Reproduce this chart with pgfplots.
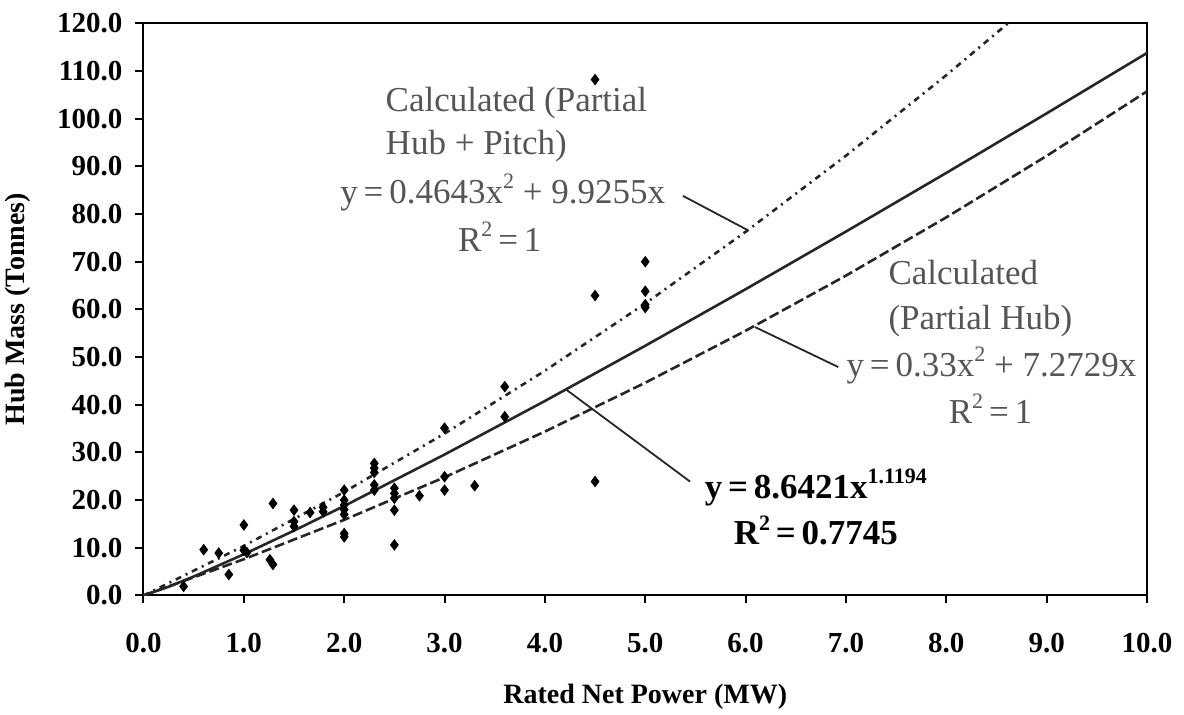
\documentclass[border=0pt]{standalone}
\usepackage{fontspec}
\setmainfont{Liberation Serif}
\usepackage{pgfplots}
\pgfplotsset{compat=1.18}
\definecolor{anno}{HTML}{555555}
\definecolor{ln}{HTML}{262626}
\newcommand{\sq}[1]{\raisebox{0.42em}{\fontsize{11}{11}\selectfont #1}}
\begin{document}
\begin{tikzpicture}
\begin{axis}[
  scale only axis, width=501.75pt, height=286.1pt,
  xmin=0, xmax=10, ymin=0, ymax=120,
  xtick={0,1,...,10}, ytick={0,10,...,120},
  tick align=outside, tick pos=left, major tick length=4pt,
  axis line style={line width=1pt},
  every tick/.style={line width=1pt, black},
  /pgf/number format/fixed, /pgf/number format/fixed zerofill,
  /pgf/number format/precision=1, /pgf/number format/assume math mode=true,
  tick label style={font=\fontsize{14.5}{16}\selectfont\bfseries},
  xticklabel style={yshift=-11.5pt},
  yticklabel style={xshift=-3pt},
  xlabel={Rated Net Power (MW)}, ylabel={Hub Mass (Tonnes)},
  every axis x label/.style={at={([yshift=-50.75pt]axis description cs:0.5,0)}, anchor=center, font=\fontsize{14}{16}\selectfont\bfseries},
  every axis y label/.style={at={([xshift=-62.75pt]axis description cs:0,0.5)}, anchor=center, rotate=90, font=\fontsize{14}{16}\selectfont\bfseries},
  clip=true,
]
% measured data
\addplot[only marks, mark=diamond*, mark size=2.6pt, black] coordinates {
(0.4,1.9) (0.6,9.6) (0.75,8.9) (0.85,4.4) (1.0,14.8) (1.0,9.5) (1.03,9.0)
(1.29,19.3) (1.26,7.5) (1.29,6.5) (1.5,17.9) (1.5,15.5) (1.5,14.5)
(1.66,17.4) (1.79,17.6) (1.79,18.5)
(2.0,22.1) (2.0,20.0) (2.0,19.0) (2.0,18.0) (2.0,17.0) (2.0,13.0) (2.0,12.3)
(2.3,27.7) (2.3,26.7) (2.3,25.8) (2.3,23.2) (2.3,22.1)
(2.5,22.5) (2.5,21.4) (2.5,20.4) (2.5,17.9) (2.5,10.6) (2.75,20.9)
(3.0,35.1) (3.0,24.9) (3.0,22.1) (3.3,23.0) (3.6,43.8) (3.6,37.5)
(4.5,108.2) (4.5,62.9) (4.5,23.9)
(5.0,70.0) (5.0,63.8) (5.0,61.0) (5.0,60.4)
};
% power fit
\addplot[ln, line width=1.3pt] coordinates {
(0,0) (0.25,1.831) (0.5,3.978) (1,8.642) (1.5,13.606) (2,18.775) (3,29.56)
(4,40.79) (5,52.37) (6,64.23) (7,76.32) (8,88.62) (9,101.11) (10,113.77)
};
% calculated partial hub
\addplot[ln, line width=1.3pt, dash pattern=on 5pt off 2pt] coordinates {
(0,0) (1,7.603) (2,15.866) (3,24.789) (4,34.372) (5,44.615) (6,55.517)
(7,67.080) (8,79.303) (9,92.186) (10,105.729)
};
% calculated partial hub + pitch
\addplot[ln, line width=1.3pt, dash pattern=on 3pt off 2.5pt on 1pt off 2.5pt] coordinates {
(0,0) (1,10.390) (2,21.708) (3,33.955) (4,47.131) (5,61.235) (6,76.268)
(7,92.230) (8,109.119) (8.615,120.0)
};
% annotations
\begin{scope}[font=\fontsize{17.5}{20}\selectfont]
\node[anno, anchor=base west, inner sep=0pt] at (axis cs:2.41,101.5) {Calculated (Partial};
\node[anno, anchor=base west, inner sep=0pt] at (axis cs:2.41,92.4) {Hub + Pitch)};
\node[anno, anchor=base, inner sep=0pt] at (axis cs:3.58,82.3) {y\,=\,0.4643x\sq{2} + 9.9255x};
\node[anno, anchor=base, inner sep=0pt] at (axis cs:3.55,72.2) {R\sq{2}\,=\,1};
\node[anno, anchor=base west, inner sep=0pt] at (axis cs:7.42,65.2) {Calculated};
\node[anno, anchor=base west, inner sep=0pt] at (axis cs:7.42,55.7) {(Partial Hub)};
\node[anno, anchor=base, inner sep=0pt] at (axis cs:8.45,45.9) {y\,=\,0.33x\sq{2} + 7.2729x};
\node[anno, anchor=base, inner sep=0pt] at (axis cs:8.44,36.1) {R\sq{2}\,=\,1};
\node[black, anchor=base, inner sep=0pt, font=\fontsize{17.5}{20}\selectfont\bfseries] at (axis cs:6.70,20.4) {y\,=\,8.6421x\sq{1.1194}};
\node[black, anchor=base, inner sep=0pt, font=\fontsize{17.5}{20}\selectfont\bfseries] at (axis cs:6.70,10.6) {R\sq{2}\,=\,0.7745};
\end{scope}
\draw[ln, line width=0.9pt] (axis cs:5.376,83.8) -- (axis cs:6.014,76.7);
\draw[ln, line width=0.9pt] (axis cs:6.093,56.3) -- (axis cs:6.924,47.9);
\draw[ln, line width=0.9pt] (axis cs:4.217,43.1) -- (axis cs:5.446,23.9);
\end{axis}
\pgfresetboundingbox
\path (-71.75pt,-59.75pt) rectangle (520.25pt,297.75pt);
\end{tikzpicture}
\end{document}
